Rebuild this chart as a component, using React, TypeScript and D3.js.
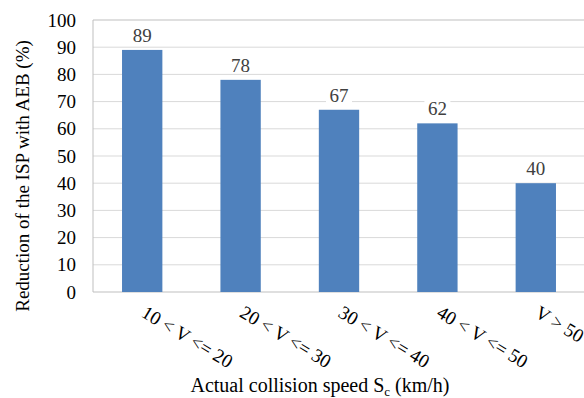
import React from "react";
import * as d3 from "d3";

const categories = ["10 < V <= 20", "20 < V <= 30", "30 < V <= 40", "40 < V <= 50", "V > 50"];
const reductions = [89, 78, 67, 62, 40];
const yTicks = [0, 10, 20, 30, 40, 50, 60, 70, 80, 90, 100];

const tx = { fontFamily: '"Liberation Serif", "Times New Roman", Tinos', fontSize: 19 };

export default function App() {
  const width = 584;
  const height = 398;
  const left = 93, right = 585, top = 20, bottom = 292;

  const x = d3.scaleBand<string>()
    .domain(categories)
    .range([left, right])
    .paddingInner(0.59)
    .paddingOuter(0.295);
  const y = d3.scaleLinear().domain([0, 100]).range([bottom, top]);
  const data = categories.map((c, i) => ({ c, v: reductions[i] }));

  return (
    <svg width={width} height={height} style={{ position: "absolute", left: 0, top: 0, display: "block" }}>
      <rect width={width} height={height} fill="#fff" />

      {/* gridlines */}
      {yTicks.filter(t => t > 0).map(t => (
        <line key={t} x1={left} x2={right} y1={y(t)} y2={y(t)}
          stroke={t === 100 ? "#bfbfbf" : "#d9d9d9"} strokeWidth={1} />
      ))}
      <line x1={left} x2={left} y1={top} y2={bottom} stroke="#bfbfbf" />
      <line x1={left} x2={right} y1={bottom} y2={bottom} stroke="#bfbfbf" />

      {/* y tick labels */}
      {yTicks.map(t => (
        <text key={t} x={76} y={y(t)} dy="0.35em" textAnchor="end" fill="#000" style={tx}>{t}</text>
      ))}

      {/* bars */}
      {data.map(d => (
        <rect key={d.c} x={x(d.c)} y={y(d.v)} width={x.bandwidth()} height={bottom - y(d.v)} fill="#4f81bd" />
      ))}

      {/* value labels */}
      {data.map(d => (
        <g key={d.c} transform={`translate(${x(d.c)! + x.bandwidth() / 2},${y(d.v) - 8})`}>
          <rect x={-13} y={-15} width={26} height={16} fill="#fff" />
          <text textAnchor="middle" fill="#404040" style={tx}>{d.v}</text>
        </g>
      ))}

      {/* x category labels */}
      {categories.map(c => (
        <text key={c} transform={`translate(${x(c)! + x.bandwidth() / 2 - 2},${bottom + 24}) rotate(31)`}
          fill="#000" style={tx}>{c}</text>
      ))}

      {/* axis titles */}
      <text x={320} y={392} textAnchor="middle" fill="#000" style={{ ...tx, fontSize: 20 }}>
        <tspan>Actual collision speed S</tspan>
        <tspan dy={4} style={{ fontSize: 13 }}>c</tspan>
        <tspan dy={-4}> (km/h)</tspan>
      </text>
      <text transform="translate(29,176) rotate(-90)" textAnchor="middle" fill="#000" style={tx}>
        Reduction of the ISP with AEB (%)
      </text>
    </svg>
  );
}
